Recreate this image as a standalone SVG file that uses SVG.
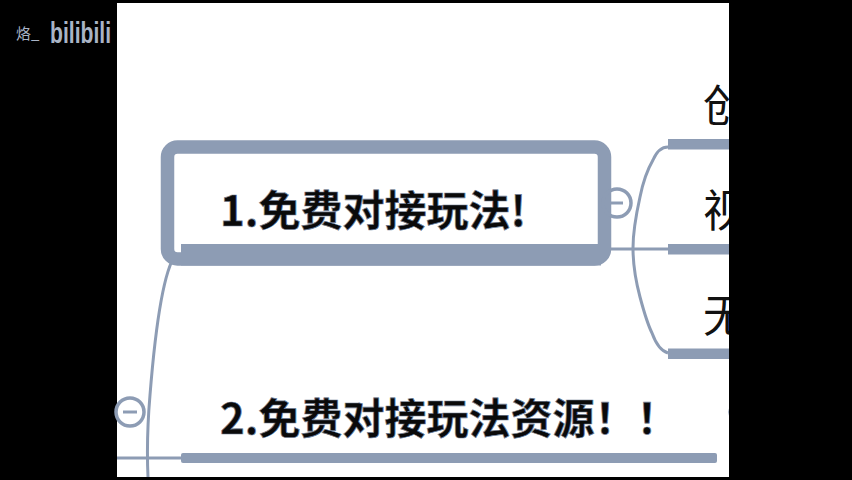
<svg xmlns="http://www.w3.org/2000/svg" width="852" height="480" viewBox="0 0 852 480">
<style>
.c{fill:none;stroke:#8d9cb4;stroke-width:3}
.t{fill:#8d9cb4}
.h{font-family:"Noto Sans CJK SC","Noto Sans",sans-serif;font-size:42px;font-weight:700;fill:#0a0a0a;stroke:#6f7d94;stroke-width:.7}
.n{font-family:"Noto Sans CJK SC","Noto Sans",sans-serif;font-size:44px;font-weight:400;fill:#111}
.f{fill:#fff;stroke:#8d9cb4;stroke-width:3.500}
</style>
<rect width="852" height="480" fill="#000"/>
<rect x="117" y="3" width="612" height="474" fill="#fff"/>
<g id="connectors">
<path class="c" d="M668 147C660 147 656 153 653 160C646 172 642 187 640 197C636 215 633 232 633 248C633 265 636 282 640 297C644 312 648 325 652 333C656 344 661 351 668 353"/>
<path class="c" d="M600 249H668"/>
<path class="c" d="M176 254C162 272 154 345 150 395C147 430 147 455 148 477"/>
<path class="c" d="M117 458H182"/>
</g>
<g id="node-1">
<rect x="167.500" y="147" width="437" height="112" rx="10" fill="none" stroke="#8d9cb4" stroke-width="13.500"/>
<rect x="181" y="244" width="420" height="21.500" class="t"/>
<text class="h" x="220" y="226">1.免费对接玩法!</text>
<circle class="f" cx="617" cy="203" r="14" fill-opacity="0"/>
<path class="c" d="M610 203H623"/>
</g>
<g id="node-2">
<rect x="181" y="453" width="536" height="10" rx="2" class="t"/>
<text class="h" x="220" y="434">2.免费对接玩法资源！！</text>
<circle class="f" cx="130" cy="412" r="14"/>
<path class="c" d="M123 412H137"/>
<circle class="f" cx="738" cy="412" r="8"/>
</g>
<g id="node-3">
<rect x="668" y="139" width="70" height="10.500" class="t"/>
<text class="n" x="703" y="122">创</text>
</g>
<g id="node-4">
<rect x="668" y="244" width="70" height="10.500" class="t"/>
<text class="n" x="703" y="227">视</text>
</g>
<g id="node-5">
<rect x="668" y="348.500" width="70" height="10.500" class="t"/>
<text class="n" x="703" y="332">无</text>
</g>
<rect x="729" y="0" width="123" height="480" fill="#000"/>
<g id="watermark" fill="#a9b4c6">
<text x="16" y="39" font-family="Noto Sans CJK SC,sans-serif" font-size="15">烙_</text>
<text x="50" y="43" font-family="Liberation Sans,sans-serif" font-size="30" font-weight="700" textLength="61" lengthAdjust="spacingAndGlyphs">bilibili</text>
</g>
</svg>
